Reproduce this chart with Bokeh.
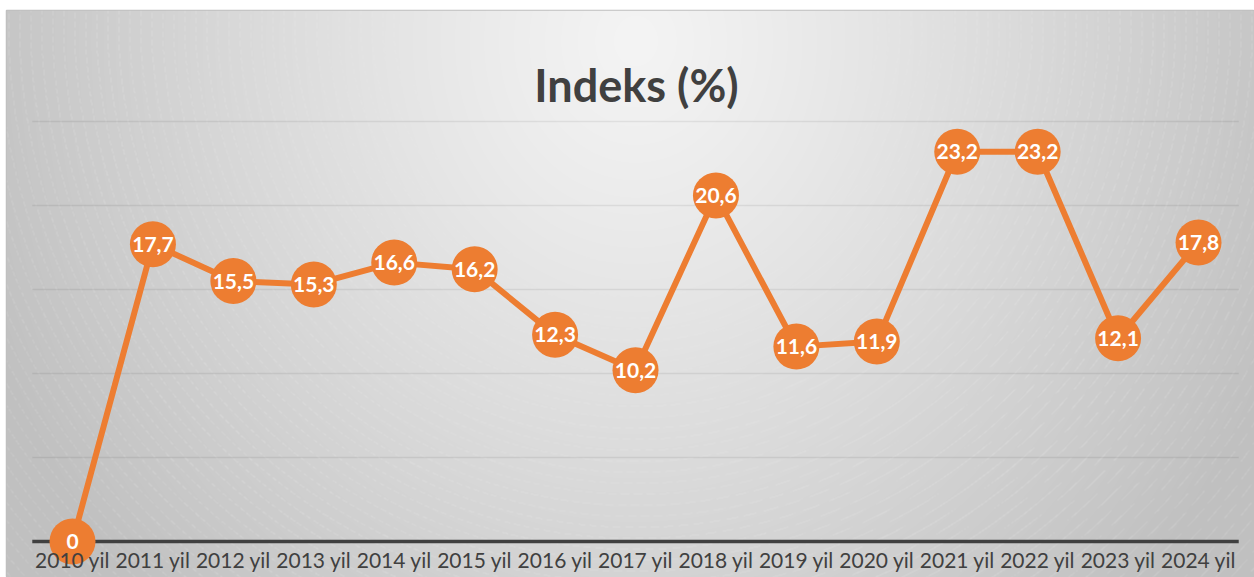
import numpy as np
from bokeh.plotting import figure
from bokeh.models import Range1d, LinearAxis, FixedTicker, Label, ColumnDataSource
from bokeh.core.properties import value
from bokeh.embed import file_html
from bokeh.resources import INLINE

# ---------------- data ----------------
years = ["2010 yil", "2011 yil", "2012 yil", "2013 yil", "2014 yil", "2015 yil",
         "2016 yil", "2017 yil", "2018 yil", "2019 yil", "2020 yil", "2021 yil",
         "2022 yil", "2023 yil", "2024 yil"]
values = [0, 17.7, 15.5, 15.3, 16.6, 16.2, 12.3, 10.2, 20.6, 11.6, 11.9, 23.2, 23.2, 12.1, 17.8]
value_labels = ["0", "17,7", "15,5", "15,3", "16,6", "16,2", "12,3", "10,2", "20,6",
                "11,6", "11,9", "23,2", "23,2", "12,1", "17,8"]
grid_ticks = [5, 10, 15, 20, 25]
title_text = "Indeks (%)"

# ---------------- layout ----------------
W, H = 1254, 577
LEFT, TOP = 6, 10
FW, FH = W - LEFT, H - TOP
X_PX = 80.43          # pixels per category
X0_CANVAS = 72        # canvas x of the first category
Y_PX = 16.8           # pixels per unit
ZERO_CANVAS = 541     # canvas y of value 0

x_start = -(X0_CANVAS - LEFT) / X_PX
x_end = x_start + FW / X_PX
y_start = -(H - ZERO_CANVAS) / Y_PX
y_end = (ZERO_CANVAS - TOP) / Y_PX

ORANGE = "#ED7D31"
DARK = "#404040"
FONT = "Lato"
band = (-0.5, len(years) - 0.5)

idx = list(range(len(years)))
src = ColumnDataSource(dict(x=idx, y=values, lab=value_labels))

p = figure(width=W, height=H, x_range=Range1d(x_start, x_end), y_range=Range1d(y_start, y_end),
           x_axis_location=None, y_axis_location=None, toolbar_location=None,
           output_backend="svg", min_border_left=LEFT, min_border_top=TOP,
           min_border_right=0, min_border_bottom=0,
           outline_line_color="#bfbfbf", outline_line_width=1.5,
           border_fill_color="white", background_fill_color="#d0d0d0")
p.grid.visible = False

# ---------------- background gradient ----------------
cy, cx = np.mgrid[0:FH, 0:FW].astype(float)
cy = cy + TOP
cx = cx + LEFT
r = np.sqrt(((cx - 635) / 700.0) ** 2 + ((cy - 40) / 800.0) ** 2)
r = np.clip(r, 0, 1)
shade = 244 - 52 * r ** 1.15
rpx = np.sqrt((cx - 635) ** 2 + (cy - 20) ** 2)
ring = ((rpx % 11.0) < 1.0) & (((cx * 0.7 + cy) % 9.0) < 6.0)
shade = shade + ring * 8 * np.clip((r - 0.25) * 2, 0, 1)
shade = np.clip(shade, 0, 255).astype(np.uint8)
shade = shade[::-1, :]
img = np.empty((FH, FW), dtype=np.uint32)
view = img.view(dtype=np.uint8).reshape((FH, FW, 4))
view[:, :, 0] = shade
view[:, :, 1] = shade
view[:, :, 2] = shade
view[:, :, 3] = 255
p.image_rgba(image=[img], x=x_start, y=y_start, dw=x_end - x_start, dh=y_end - y_start, level="image")

# ---------------- horizontal gridlines and zero axis line ----------------
n = len(grid_ticks)
p.segment(x0=[band[0]] * n, x1=[band[1]] * n, y0=grid_ticks, y1=grid_ticks,
          line_color="#000000", line_alpha=0.07, line_width=1.5, level="underlay")
p.segment(x0=[band[0]], x1=[band[1]], y0=[0], y1=[0],
          line_color=DARK, line_width=3.5, level="underlay")

# ---------------- axis labels ----------------
ax_lab = LinearAxis(fixed_location=0, ticker=FixedTicker(ticks=idx),
                    major_label_overrides={i: y for i, y in enumerate(years)},
                    axis_line_color=None,
                    major_tick_line_color=None, minor_tick_line_color=None,
                    major_label_text_font=FONT, major_label_text_font_size="21px",
                    major_label_text_color=DARK, major_label_standoff=-1)
p.add_layout(ax_lab, "below")

# ---------------- series ----------------
p.line("x", "y", source=src, line_width=6, line_color=ORANGE)
p.scatter("x", "y", source=src, size=46, fill_color=ORANGE, line_color=None)
p.text("x", "y", text="lab", source=src, text_color="white", text_font=value(FONT),
       text_font_style="bold", text_font_size="21px", text_align="center",
       text_baseline="middle")

# ---------------- title ----------------
p.add_layout(Label(x=630, y=H - 84, x_units="screen", y_units="screen", text=title_text,
                   text_font=FONT, text_font_style="bold", text_font_size="45px",
                   text_color=DARK, text_align="center", text_baseline="alphabetic"))

open("out.html", "w").write(file_html(p, INLINE))
